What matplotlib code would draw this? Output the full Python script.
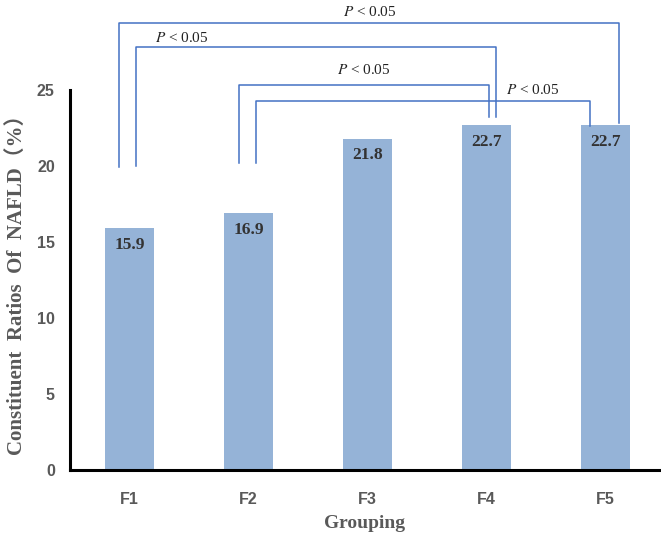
import matplotlib
matplotlib.use('Agg')
import matplotlib.pyplot as plt

# Data
groups = ['F1', 'F2', 'F3', 'F4', 'F5']
ratios = [15.9, 16.9, 21.8, 22.7, 22.7]

# significance brackets: (left x, right x, top y, left foot y, right foot y)
brackets = [
    (-0.09, 4.11, 29.4, 19.9, 22.8),
    (0.05, 3.08, 27.8, 20.0, 23.2),
    (0.92, 3.02, 25.3, 20.2, 23.2),
    (1.06, 3.87, 24.3, 20.2, 22.6),
]
bracket_labels = [(2.02, 30.1), (0.44, 28.4), (1.97, 26.3), (3.39, 25.0)]
p_text = r'$P$ < 0.05'

plt.rcParams['mathtext.fontset'] = 'stix'
serif = ['Liberation Serif', 'Noto Sans CJK SC']
gray = '#595959'
blue = '#4472C4'

fig = plt.figure(figsize=(6.61, 5.42), dpi=100)
ax = fig.add_axes([0.106, 0.133, 0.891, 0.701])

ax.bar(range(len(groups)), ratios, width=0.41, color='#95B3D7')

# value labels inside bars
for i, v in enumerate(ratios):
    ax.text(i, v - 1.1, f'{v}', ha='center', va='center', fontsize=12.5,
            fontweight='bold', family=serif, color='#333333')

# brackets above bars
for (x0, x1, top, y0, y1) in brackets:
    ax.plot([x0, x0, x1, x1], [y0, top, top, y1], color=blue, lw=1.1,
            clip_on=False)
for (x, y) in bracket_labels:
    ax.text(x, y, p_text, ha='center', va='center', fontsize=11,
            family='Liberation Serif', color='#222222', clip_on=False)

ax.set_xlim(-0.5, 4.45)
ax.set_ylim(0, 25)
ax.set_yticks([0, 5, 10, 15, 20, 25])
ax.set_xticks(range(len(groups)))
ax.set_xticklabels(groups)

for s in ['top', 'right']:
    ax.spines[s].set_visible(False)
for s in ['left', 'bottom']:
    ax.spines[s].set_linewidth(2.2)
    ax.spines[s].set_color('black')

ax.tick_params(axis='y', length=0, pad=11, labelsize=11.5, labelcolor=gray)
ax.tick_params(axis='x', length=0, pad=16, labelsize=11.5, labelcolor=gray)
for lab in ax.get_xticklabels() + ax.get_yticklabels():
    lab.set_fontweight('bold')
    lab.set_family('Liberation Sans')

ax.set_ylabel('Constituent  Ratios  Of  NAFLD（%）', family=serif,
              fontsize=15, fontweight='bold', color=gray, labelpad=7)
ax.set_xlabel('Grouping', family=serif, fontsize=14, fontweight='bold',
              color=gray, labelpad=6)

fig.savefig('out.png', dpi=100)
